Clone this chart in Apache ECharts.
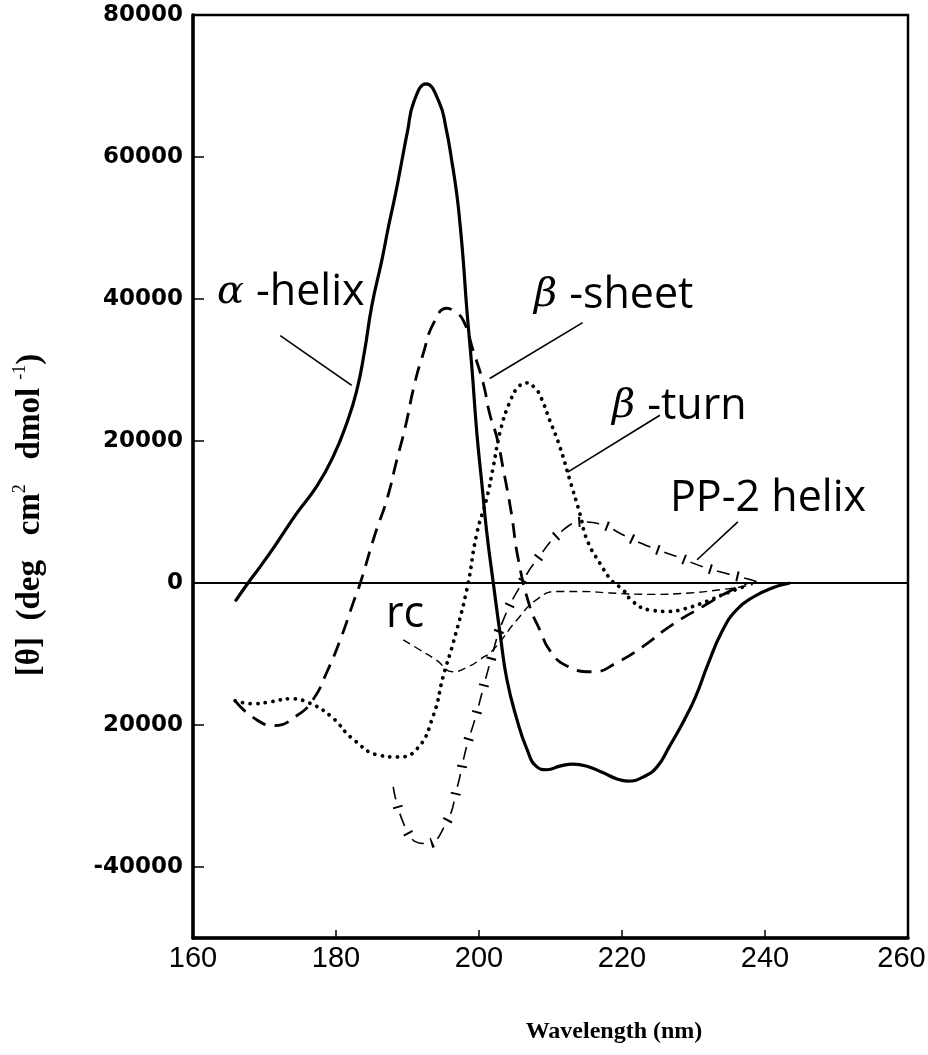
<!DOCTYPE html>
<html>
<head>
<meta charset="utf-8">
<title>CD spectra of secondary structures</title>
<script src="https://cdn.jsdelivr.net/npm/echarts@6/dist/echarts.min.js"></script>
<style>
  html, body { margin: 0; padding: 0; background: #ffffff; }
  #chart { width: 928px; height: 1055px; }
</style>
</head>
<body>
<div id="chart"></div>
<script>
// Axis ticks and their printed labels
const xLabelValues = [160, 180, 200, 220, 240, 260];
const xTickValues = [180, 200, 220, 240];
const yLabelValues = [-40000, -20000, 0, 20000, 40000, 60000, 80000];
const yLabelTexts = ['-40000', '20000', '0', '20000', '40000', '60000', '80000'];
const yTickValues = [-40000, -20000, 20000, 40000, 60000];

// Mean residue ellipticity [θ] vs wavelength (nm)
const alphaHelix = [
  [165.9, -2600], [167.7, 0], [169.4, 2300], [171.7, 5600], [174.5, 9800],
  [177.3, 13600], [179.6, 17800], [181.5, 22500], [182.9, 27100], [184.0, 32700],
  [185.0, 39000], [186.4, 45400], [187.3, 50000], [188.3, 54700], [189.2, 59400],
  [190.0, 63600], [190.9, 67800], [192.6, 70300], [194.4, 67800], [195.4, 64000],
  [196.2, 59400], [196.9, 54700], [197.4, 50000], [197.8, 45400], [198.3, 38500],
  [199.0, 30400], [199.7, 21100], [200.4, 14000], [201.1, 7000], [202.0, 0],
  [203.0, -7500], [203.9, -13600], [205.3, -19200], [206.7, -23400], [208.1, -25900],
  [209.5, -26300], [211.3, -25800], [213.1, -25500], [215.1, -25800], [217.3, -26700],
  [219.3, -27600], [220.8, -27900], [223.0, -27300], [224.9, -25900], [226.7, -22900],
  [228.6, -19500], [230.3, -16000], [232.0, -11500], [234.0, -6800], [236.0, -3800],
  [238.5, -1900], [241.0, -700], [243.5, 0]
];

const betaSheet = [
  [165.9, -16600], [168.5, -19000], [171.4, -20100], [174.5, -18700], [176.8, -16400],
  [178.7, -12600], [180.6, -8000], [182.4, -2800], [183.4, 0], [185.5, 7000],
  [187.1, 11700], [188.5, 17300], [189.7, 22000], [191.0, 28100], [192.2, 32300],
  [193.6, 36500], [195.5, 38700], [196.6, 38200], [197.8, 37000], [199.2, 32700],
  [200.6, 28100], [201.5, 23800], [202.5, 20500], [203.4, 16000], [204.5, 10000],
  [205.5, 3300], [207.1, -3300], [208.5, -6600], [209.9, -9500], [212.3, -11700],
  [216.0, -12500], [219.3, -11200], [223.0, -8900], [226.7, -6100], [231.3, -3300],
  [235.5, -900], [237.5, 0]
];

const betaTurn = [
  [165.9, -16600], [168.5, -17000], [171.0, -16700], [173.6, -16300], [176.0, -16800],
  [179.2, -18700], [182.4, -22000], [186.2, -24300], [188.5, -24500], [191.3, -23400],
  [193.6, -18700], [195.0, -13100], [196.4, -8400], [198.3, -900], [199.7, 7000],
  [201.1, 12000], [202.0, 16400], [203.0, 21500], [204.4, 25700], [205.5, 27600],
  [206.7, 28200], [207.7, 27600], [208.5, 26500], [209.9, 22900], [211.3, 19200],
  [212.7, 14500], [214.1, 9800], [215.1, 6100], [216.9, 2800], [218.7, 200],
  [220.1, -900], [221.5, -2600], [223.9, -3800], [226.7, -4000], [228.5, -3700],
  [231.3, -2800], [234.7, -1400], [237.6, -300]
];

const randomCoil = [
  [189.4, -8000], [191.7, -9400], [194.1, -10900], [196.3, -12500], [198.7, -11700],
  [200.1, -10800], [202.0, -9400], [205.3, -5200], [208.1, -2300], [210.9, -1200],
  [214.5, -1200], [218.3, -1400], [223.9, -1600], [229.5, -1400], [234.1, -900],
  [236.9, -500], [238.3, -200]
];

const pp2Helix = [
  [188.0, -28700], [190.3, -35600], [192.7, -36700], [195.5, -33600], [196.9, -29000],
  [198.3, -22900], [199.4, -19300], [201.8, -10300], [203.4, -5200], [206.0, 0],
  [208.1, 3300], [211.7, 7400], [214.5, 8600], [217.3, 8200], [220.1, 6800],
  [223.9, 5100], [227.7, 3700], [231.3, 2300], [235.1, 1200], [237.9, 500],
  [239.0, 100]
];

// Pointer lines from each name to its curve
const leaderAlpha = [[172.2, 34850], [182.2, 27830]];
const leaderSheet = [[214.5, 36670], [201.5, 28810]];
const leaderTurn = [[225.3, 23620], [212.4, 15620]];
const leaderPP2 = [[236.2, 8600], [230.5, 3270]];

const chart = echarts.init(document.getElementById('chart'), null, { renderer: 'canvas' });

function curve(name, data, lineStyle, extra) {
  return Object.assign({
    name: name,
    type: 'line',
    data: data,
    smooth: 0.5,
    showSymbol: false,
    symbol: 'none',
    silent: true,
    animation: false,
    lineStyle: Object.assign({ color: '#000' }, lineStyle)
  }, extra || {});
}

function leader(data) {
  return {
    type: 'line', data: data, symbol: 'none', silent: true, animation: false,
    lineStyle: { color: '#000', width: 1.6 }
  };
}

const labelFont = '"Open Sans", sans-serif';
const greekRich = {
  g: { fontFamily: '"DejaVu Serif", serif', fontStyle: 'italic', fontSize: 40, fill: '#000', padding: [0, 12, 0, 0] },
  t: { fontFamily: labelFont, fontSize: 43, fill: '#000' }
};

function plotLabel(text, x, y) {
  return {
    type: 'text', left: x, top: y, silent: true,
    style: { text: text, rich: greekRich, fill: '#000', font: '43px ' + labelFont }
  };
}

const serif = '"Liberation Serif", "Times New Roman", serif';
const sans = '"Liberation Sans", Arial, sans-serif';

const option = {
  backgroundColor: '#ffffff',
  animation: false,
  grid: {
    left: 193, right: 20, top: 15, bottom: 117,
    outerBoundsMode: 'none',
    containLabel: false,
    show: true, borderColor: '#000', borderWidth: 2.5, backgroundColor: 'transparent'
  },
  xAxis: {
    type: 'value', min: 160, max: 260,
    splitLine: { show: false },
    axisLine: { show: true, onZero: false, lineStyle: { color: '#000', width: 3.5 } },
    axisTick: { show: true, inside: true, length: 8, customValues: xTickValues, lineStyle: { color: '#000', width: 1.5 } },
    axisLabel: {
      customValues: xLabelValues, margin: 6,
      fontFamily: sans, fontSize: 29, color: '#000',
      formatter: function (v) {
        // the last label sits flush with the right edge of the frame
        return v === 260 ? '{r|' + v + '}' : String(v);
      },
      rich: {
        r: { fontFamily: sans, fontSize: 29, color: '#000', padding: [0, 13, 0, 0] }
      }
    }
  },
  yAxis: {
    type: 'value', min: -50000, max: 80000,
    splitLine: { show: false },
    axisLine: { show: true, onZero: false, lineStyle: { color: '#000', width: 3.5 } },
    axisTick: { show: true, inside: true, length: 11, customValues: yTickValues, lineStyle: { color: '#000', width: 1.5 } },
    axisLabel: {
      customValues: yLabelValues, margin: 10,
      fontFamily: '"DejaVu Sans", sans-serif', fontWeight: 'bold', fontSize: 23, color: '#000',
      formatter: function (v) {
        const i = yLabelValues.indexOf(v);
        return i >= 0 ? yLabelTexts[i] : '';
      }
    }
  },
  series: [
    curve('α-helix', alphaHelix, { width: 3.2, type: 'solid' }, {
      markLine: {
        silent: true, symbol: 'none', animation: false,
        label: { show: false },
        lineStyle: { color: '#000', width: 2, type: 'solid' },
        data: [{ yAxis: 0 }]
      }
    }),
    curve('β-sheet', betaSheet, { width: 2.8, type: [15, 9] }),
    curve('β-turn', betaTurn, { width: 3.8, type: [0.1, 7.5], cap: 'round' }),
    curve('rc', randomCoil, { width: 1.4, type: [8, 5] }),
    curve('PP-2 helix', pp2Helix, { width: 1.6, type: [13, 15] }),
    curve('PP-2 helix ticks', pp2Helix, { width: 10, type: [2, 26], dashOffset: -20 }),
    leader(leaderAlpha),
    leader(leaderSheet),
    leader(leaderTurn),
    leader(leaderPP2)
  ],
  graphic: [
    plotLabel('{g|α}{t|-helix}', 217, 271),
    plotLabel('{g|β}{t|-sheet}', 534, 274),
    plotLabel('{g|β}{t|-turn}', 612, 385),
    plotLabel('{t|PP-2 helix}', 670, 477),
    plotLabel('{t|rc}', 386, 593),
    {
      type: 'text', x: 29, y: 515, rotation: Math.PI / 2, silent: true,
      style: {
        text: '{a|[θ]  (deg   cm}{s|2}{a|   dmol }{s|-1}{a|)}',
        align: 'center', verticalAlign: 'middle',
        rich: {
          a: { fontFamily: serif, fontWeight: 'bold', fontSize: 33, fill: '#000', lineHeight: 36, verticalAlign: 'bottom' },
          s: { fontFamily: serif, fontSize: 18, fill: '#000', lineHeight: 36, verticalAlign: 'top' }
        }
      }
    },
    {
      type: 'text', x: 614, y: 1032, silent: true,
      style: {
        text: 'Wavelength (nm)', align: 'center', verticalAlign: 'middle',
        font: 'bold 24px ' + serif, fill: '#000'
      }
    }
  ]
};

chart.setOption(option);
</script>
</body>
</html>
